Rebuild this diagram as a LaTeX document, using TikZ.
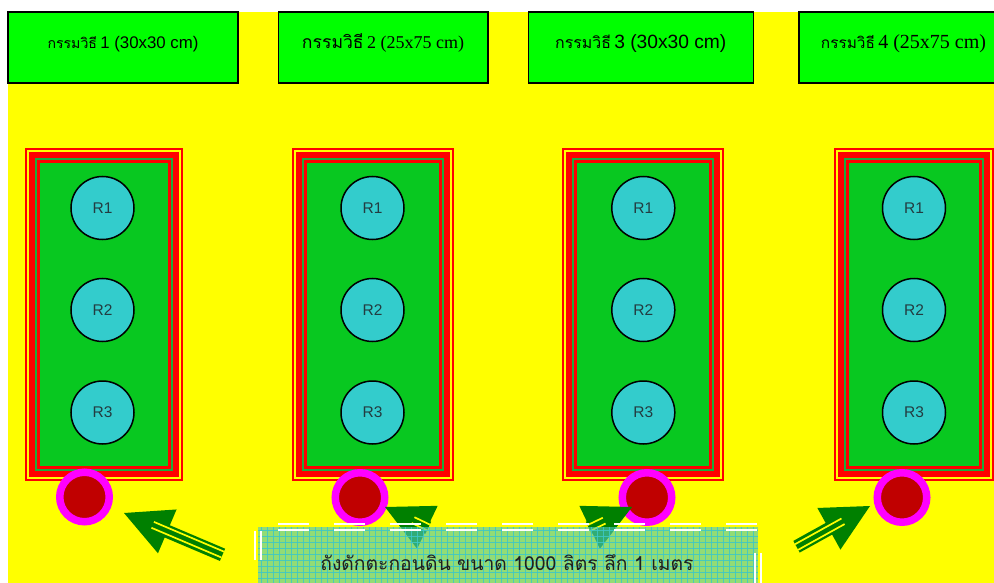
\documentclass[tikz,border=0pt]{standalone}
\usepackage{fontspec}
\newfontfamily\thai[Script=Thai]{Loma}
\newfontfamily\lsans{Liberation Sans}
\newfontfamily\lserif{Liberation Serif}
\definecolor{bgyellow}{RGB}{255,255,0}
\definecolor{hdrgreen}{RGB}{0,255,0}
\definecolor{plotgreen}{RGB}{8,200,32}
\definecolor{bandgreen}{RGB}{30,170,60}
\definecolor{framered}{RGB}{255,0,0}
\definecolor{rcyan}{RGB}{51,204,204}
\definecolor{rtext}{RGB}{35,60,65}
\definecolor{dotred}{RGB}{192,0,0}
\definecolor{ringmag}{RGB}{255,0,255}
\definecolor{arrowgreen}{RGB}{0,128,0}
\definecolor{tankfill}{RGB}{80,200,190}
\definecolor{tankgrid}{RGB}{60,200,200}
\newcommand\plotframe[2]{%
  \fill[framered] ({#1},148) rectangle ({#1+#2},481);
  \fill[bgyellow] ({#1+2},150) rectangle ({#1+#2-2},479);
  \fill[framered] ({#1+4},152) rectangle ({#1+#2-4},477);
  \fill[bandgreen] ({#1+10},158) rectangle ({#1+#2-10},471);
  \fill[framered] ({#1+12},160) rectangle ({#1+#2-12},469);
  \fill[plotgreen] ({#1+15},163) rectangle ({#1+#2-15},466);
}
\newcommand\blockarrow[4]{%
  \begin{scope}[shift={(#1,#2)}, rotate=#3]
    \fill[arrowgreen] (0,0) -- (47,-23.8) -- (47,23.8) -- cycle;
    \fill[arrowgreen] (31,-6.65) rectangle (#4,6.65);
    \draw[bgyellow, line width=1.7] (31,-3.5) -- (#4,-3.5);
    \draw[bgyellow, line width=1.7] (31,2.9) -- (#4,2.9);
  \end{scope}
}
\newcommand\tf[1]{\thai\fontsize{#1}{20}\selectfont}
\newcommand\sfz[1]{\lsans\fontsize{#1}{20}\selectfont}
\newcommand\rmz[1]{\lserif\fontsize{#1}{20}\selectfont}
\begin{document}
\begin{tikzpicture}[x=1pt,y=-1pt,
  hdrbox/.style={draw=black, line width=1.6pt, fill=hdrgreen, inner sep=0pt},
  hdrtext/.style={anchor=base, text=black, inner sep=0pt},
  rcirc/.style={circle, draw=black, line width=1.5pt, fill=rcyan, minimum size=63pt, inner sep=0pt,
    font=\lsans\fontsize{15.5}{18}\selectfont, text=rtext},
  dotstyle/.style={circle, draw=ringmag, line width=7.5pt, fill=dotred, minimum size=49.5pt, inner sep=0pt},
  tankline/.style={draw=white, line width=2pt},
  tanktext/.style={anchor=base, font=\thai\fontsize{19.3}{23}\selectfont, text=black!88, inner sep=0pt}]
\useasboundingbox (0,0) rectangle (994,583);
\fill[white] (0,0) rectangle (994,583);
\fill[bgyellow] (8,12) rectangle (994,583);
% header boxes
\node[hdrbox, minimum width=229.7pt, minimum height=71.3pt] (h1) at (122.85,47.65) {};
\node[hdrbox, minimum width=209.4pt, minimum height=71.3pt] (h2) at (383,47.65) {};
\node[hdrbox, minimum width=225pt, minimum height=71.3pt] (h3) at (640.8,47.65) {};
\node[hdrbox, minimum width=209pt, minimum height=71.3pt] (h4) at (903.5,47.65) {};
\node[hdrtext] (t1) at (123,49) {{\tf{14.1}กรรมวิธี} {\sfz{16.8}1 (30x30 cm)}};
\node[hdrtext] (t2) at (383,49) {{\tf{17.6}กรรมวิธี} {\rmz{18}2 (25x75 cm)}};
\node[hdrtext] (t3) at (640.8,49) {{\tf{15.9}กรรมวิธี} {\sfz{19.2}3 (30x30 cm)}};
\node[hdrtext] (t4) at (903.5,49) {{\tf{15.4}กรรมวิธี} {\rmz{20}4 (25x75 cm)}};
% plots
\plotframe{25}{158}
\plotframe{292}{162}
\plotframe{562}{162}
\plotframe{834}{160}
% replicates
\foreach \c/\k in {102.5/1, 372.5/2, 643.3/3, 914/4}{
  \node[rcirc] (r\k a) at (\c,208) {R1};
  \node[rcirc] (r\k b) at (\c,310) {R2};
  \node[rcirc] (r\k c) at (\c,412.5) {R3};
}
% outlet dots
\node[dotstyle] (d1) at (84.5,497) {};
\node[dotstyle] (d2) at (360,497.5) {};
\node[dotstyle] (d3) at (647,497.5) {};
\node[dotstyle] (d4) at (902,497.5) {};
% arrows
\blockarrow{124}{513}{-23}{107}
\blockarrow{385}{507}{-25.6}{48}
\blockarrow{632}{507}{-154.4}{48}
\blockarrow{870}{506}{-151}{84}
% tank
\fill[tankfill, fill opacity=0.62] (258,527) rectangle (758,583);
\begin{scope}
  \clip (258,527) rectangle (758,583);
  \foreach \gx in {261,267,...,758} \draw[tankgrid, line width=1pt, opacity=0.85] (\gx,527) -- (\gx,583);
  \foreach \gy in {530,536,...,583} \draw[tankgrid, line width=1pt, opacity=0.85] (258,\gy) -- (758,\gy);
\end{scope}
\draw[tankline, dash pattern=on 31pt off 25pt, dash phase=36pt] (258,524.3) -- (760,524.3);
\draw[tankline, dash pattern=on 31pt off 25pt, dash phase=36pt] (258,529.6) -- (760,529.6);
\draw[tankline, dash pattern=on 29pt off 27pt, dash phase=52pt] (255.4,527) -- (255.4,583);
\draw[tankline, dash pattern=on 29pt off 27pt, dash phase=52pt] (260.8,527) -- (260.8,583);
\draw[tankline, dash pattern=on 30pt off 26pt, dash phase=30pt] (755.3,527) -- (755.3,583);
\draw[tankline, dash pattern=on 30pt off 26pt, dash phase=30pt] (760.7,527) -- (760.7,583);
\node[tanktext] (tank) at (507,570) {ถังดักตะกอนดิน ขนาด 1000 ลิตร ลึก 1 เมตร};
\end{tikzpicture}
\end{document}
